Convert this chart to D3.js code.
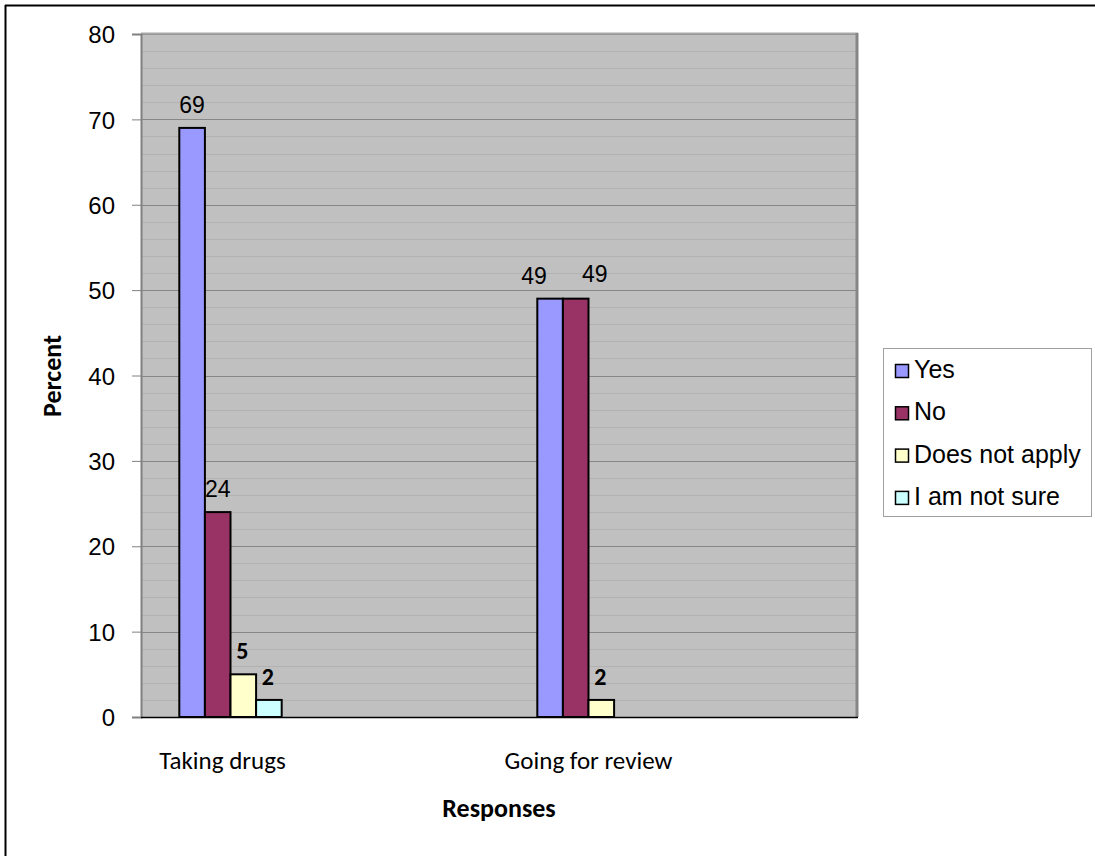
<!DOCTYPE html>
<html><head><meta charset="utf-8">
<script src="https://cdn.jsdelivr.net/npm/d3@7"></script>
<style>
html,body{margin:0;padding:0;background:#fff;}
svg{display:block;}
</style></head>
<body>
<svg id="chart" width="1095" height="856"></svg>
<script>
const categories = ["Taking drugs", "Going for review"];
const seriesNames = ["Yes", "No", "Does not apply", "I am not sure"];
const yesValues = [69, 49];
const noValues = [24, 49];
const doesNotApplyValues = [5, 2];
const notSureValues = [2, 0];
const yTicks = [0, 10, 20, 30, 40, 50, 60, 70, 80];
const seriesValues = [yesValues, noValues, doesNotApplyValues, notSureValues];

const colors = ["#9999FF", "#993366", "#FFFFCC", "#CCFFFF"];
const boldLabel = [false, false, true, true];

const svg = d3.select("#chart");
const plot = {left: 141, right: 857, top: 34, bottom: 717};

// outer frame
svg.append("line").attr("x1", 5).attr("x2", 1095).attr("y1", 5.5).attr("y2", 5.5).attr("stroke", "#000").attr("stroke-width", 2);
svg.append("line").attr("x1", 5.5).attr("x2", 5.5).attr("y1", 5).attr("y2", 856).attr("stroke", "#000").attr("stroke-width", 2);

const x = d3.scaleBand().domain(categories).range([plot.left, plot.right]).padding(0);
const y = d3.scaleLinear().domain([0, 80]).range([plot.bottom, plot.top]);
const bw = x.bandwidth();
const inner = d3.scaleBand().domain(seriesNames).range([bw * 0.107, bw * 0.107 + bw * 0.286]).padding(0);

// plot background
svg.append("rect").attr("x", plot.left).attr("y", plot.top)
  .attr("width", plot.right - plot.left).attr("height", plot.bottom - plot.top)
  .attr("fill", "#C0C0C0");

// minor gridlines
const minor = d3.range(2, 80, 2).filter(v => v % 10 !== 0);
svg.append("g").selectAll("line").data(minor).join("line")
  .attr("x1", plot.left).attr("x2", plot.right)
  .attr("y1", d => Math.round(y(d)) + 0.5).attr("y2", d => Math.round(y(d)) + 0.5)
  .attr("stroke", "#B2B2B2").attr("stroke-width", 1);

// major gridlines
svg.append("g").selectAll("line").data(yTicks.filter(v => v > 0)).join("line")
  .attr("x1", plot.left).attr("x2", plot.right)
  .attr("y1", d => Math.round(y(d)) + 0.5).attr("y2", d => Math.round(y(d)) + 0.5)
  .attr("stroke", "#878787").attr("stroke-width", 1);

// plot border (top light, right darker)
svg.append("line").attr("x1", plot.left).attr("x2", plot.right + 1).attr("y1", plot.top - 0.5).attr("y2", plot.top - 0.5)
  .attr("stroke", "#A8A8A8").attr("stroke-width", 2);
svg.append("line").attr("x1", plot.right).attr("x2", plot.right).attr("y1", plot.top - 1).attr("y2", plot.bottom)
  .attr("stroke", "#868686").attr("stroke-width", 3);

// y axis
const yAxis = d3.axisLeft(y).tickValues(yTicks).tickSize(9).tickPadding(17).tickFormat(d3.format("d"));
const gy = svg.append("g").attr("transform", `translate(${plot.left},0)`).call(yAxis);
gy.select(".domain").attr("stroke", "#808080").attr("stroke-width", 2);
gy.selectAll(".tick line").attr("stroke", "#808080");
gy.selectAll(".tick text").attr("font-family", "'Liberation Sans', Arial, sans-serif")
  .attr("font-size", 24).attr("fill", "#000").attr("dy", "0.36em");

// x axis line
svg.append("line").attr("x1", plot.left - 9).attr("x2", plot.left).attr("y1", plot.bottom + 0.5).attr("y2", plot.bottom + 0.5)
  .attr("stroke", "#808080").attr("stroke-width", 1);

// bars
const bars = [];
categories.forEach((c, ci) => {
  seriesNames.forEach((s, si) => {
    bars.push({cat: c, series: s, si, value: seriesValues[si][ci], ci});
  });
});
const barData = bars.filter(d => d.value > 0);
svg.append("g").selectAll("rect").data(barData).join("rect")
  .attr("x", d => x(d.cat) + inner(d.series))
  .attr("y", d => y(d.value))
  .attr("width", inner.bandwidth())
  .attr("height", d => y(0) - y(d.value))
  .attr("fill", d => colors[d.si])
  .attr("stroke", "#000").attr("stroke-width", 2);

svg.append("line").attr("x1", plot.left).attr("x2", plot.right + 1).attr("y1", plot.bottom + 0.5).attr("y2", plot.bottom + 0.5)
  .attr("stroke", "#000").attr("stroke-width", 1.5);

// data labels (label-placement nudges to avoid overlap of equal neighbours)
const nudge = d => {
  if (d.ci === 1 && d.si === 0) return -16;
  if (d.ci === 1 && d.si === 1) return 19;
  if (boldLabel[d.si]) return -1;
  return 0;
};
const lift = d => (d.ci === 1 && d.si === 1) ? 17 : 15;
svg.append("g").selectAll("text").data(barData).join("text")
  .attr("x", d => x(d.cat) + inner(d.series) + inner.bandwidth() / 2 + nudge(d))
  .attr("y", d => y(d.value) - lift(d))
  .attr("text-anchor", "middle")
  .attr("font-family", d => boldLabel[d.si] ? "Carlito, Calibri, Lato, sans-serif" : "'Liberation Sans', Arial, sans-serif")
  .attr("font-weight", d => boldLabel[d.si] ? "bold" : "normal")
  .attr("font-size", d => boldLabel[d.si] ? 24 : 23)
  .attr("fill", "#000")
  .text(d => d.value);

// category labels
svg.append("g").selectAll("text").data(categories).join("text")
  .attr("x", (d, i) => x(d) + inner.range()[0] + (inner.range()[1] - inner.range()[0]) / 2 - (i === 0 ? 8 : 0))
  .attr("y", 769)
  .attr("text-anchor", "middle")
  .attr("font-family", "Carlito, Calibri, Lato, sans-serif")
  .attr("font-size", 25).attr("fill", "#000")
  .text(d => d);

// axis titles
svg.append("text").attr("x", 499).attr("y", 817).attr("text-anchor", "middle")
  .attr("font-family", "Carlito, Calibri, Lato, sans-serif").attr("font-weight", "bold")
  .attr("font-size", 26).attr("fill", "#000").text("Responses");
svg.append("text").attr("transform", "translate(61,376) rotate(-90)").attr("text-anchor", "middle")
  .attr("font-family", "Carlito, Calibri, Lato, sans-serif").attr("font-weight", "bold")
  .attr("font-size", 26).attr("fill", "#000").text("Percent");

// legend
const lg = svg.append("g");
lg.append("rect").attr("x", 883.5).attr("y", 348.5).attr("width", 208).attr("height", 168)
  .attr("fill", "#fff").attr("stroke", "#A0A0A0").attr("stroke-width", 1);
const item = lg.selectAll("g.item").data(seriesNames).join("g").attr("class", "item")
  .attr("transform", (d, i) => `translate(0, ${378 + i * 42.3})`);
item.append("rect").attr("x", 895.5).attr("y", -13.5).attr("width", 13).attr("height", 13)
  .attr("fill", (d, i) => colors[i]).attr("stroke", "#000").attr("stroke-width", 1.5);
item.append("text").attr("x", 914).attr("y", 0)
  .attr("font-family", "'Liberation Sans', Arial, sans-serif").attr("font-size", 25).attr("fill", "#000")
  .text(d => d);
</script>
</body></html>
